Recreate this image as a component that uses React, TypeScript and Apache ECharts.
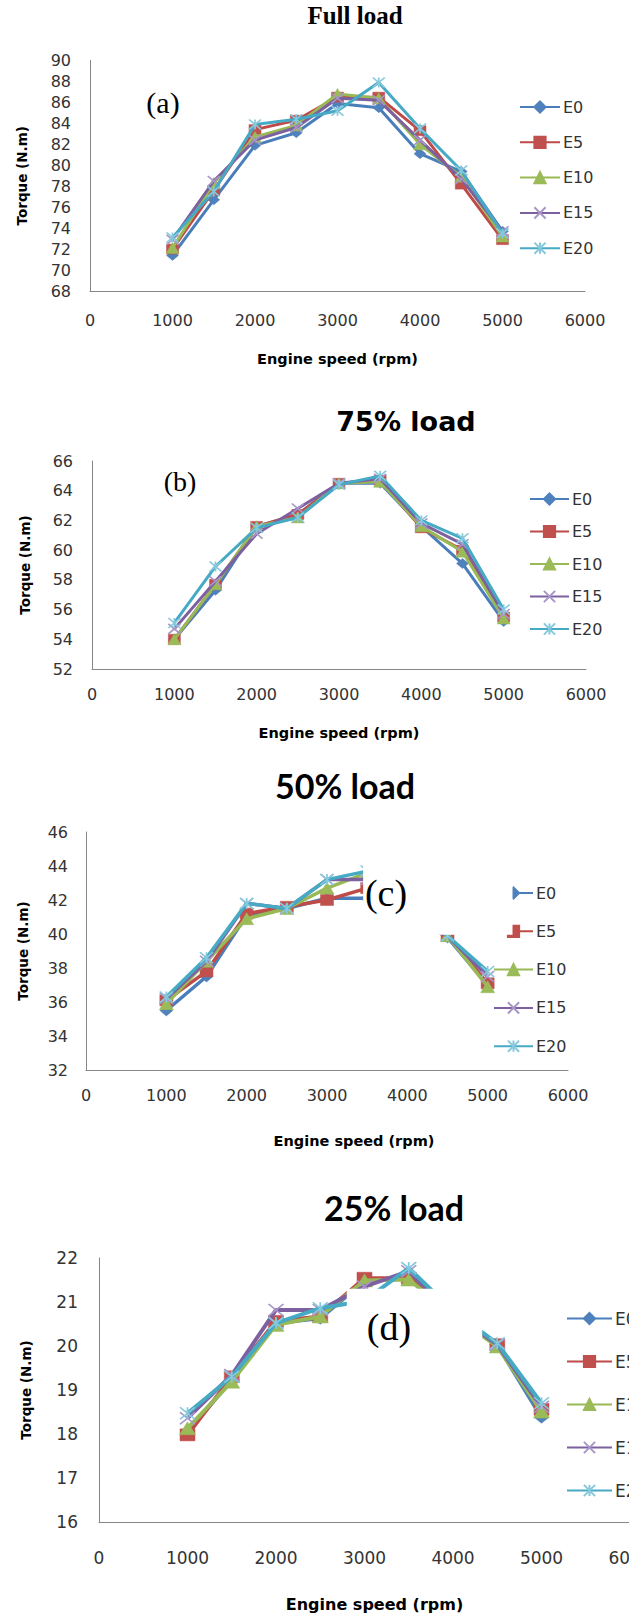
import React, { useEffect, useRef } from "react";
import * as echarts from "echarts";

// ---------- data ----------
const engineSpeed = [1000, 1500, 2000, 2500, 3000, 3500, 4000, 4500, 5000];
const blendNames = ["E0", "E5", "E10", "E15", "E20"];

const fullE0 = [71.4, 76.7, 81.9, 83.1, 85.9, 85.5, 81.1, 79.4, 73.7];
const fullE5 = [72.0, 77.6, 83.4, 84.3, 86.5, 86.5, 83.3, 78.2, 72.9];
const fullE10 = [72.1, 78.3, 82.7, 83.8, 86.8, 86.4, 82.0, 78.9, 73.2];
const fullE15 = [72.9, 78.5, 82.4, 83.6, 86.4, 86.2, 82.4, 78.7, 73.7];
const fullE20 = [73.1, 77.5, 83.9, 84.4, 85.2, 87.9, 83.5, 79.5, 73.5];

const load75E0 = [54.0, 57.3, 61.6, 62.4, 64.5, 64.5, 61.6, 59.1, 55.2];
const load75E5 = [54.0, 57.7, 61.6, 62.4, 64.5, 64.7, 61.5, 60.0, 55.5];
const load75E10 = [54.0, 57.7, 61.6, 62.2, 64.5, 64.6, 61.6, 59.9, 55.4];
const load75E15 = [54.7, 57.9, 61.1, 62.8, 64.5, 64.8, 61.8, 60.4, 55.7];
const load75E20 = [55.1, 58.9, 61.5, 62.2, 64.4, 65.0, 62.0, 60.8, 56.0];

const load50E0 = [35.5, 37.5, 41.1, 41.5, 42.1, 42.1, 41.2, 39.8, 37.0];
const load50E5 = [36.1, 37.8, 41.2, 41.6, 42.0, 42.7, 41.4, 39.9, 37.1];
const load50E10 = [35.9, 38.4, 40.9, 41.5, 42.7, 43.6, 41.7, 39.9, 36.9];
const load50E15 = [36.2, 38.4, 41.8, 41.5, 43.2, 43.2, 41.6, 39.9, 37.5];
const load50E20 = [36.3, 38.6, 41.8, 41.5, 43.2, 43.7, 41.8, 39.9, 37.8];

const load25E0 = [18.05, 19.23, 20.52, 20.63, 21.47, 21.58, 20.65, 20.03, 18.38];
const load25E5 = [17.98, 19.3, 20.56, 20.67, 21.54, 21.54, 20.7, 20.03, 18.56];
const load25E10 = [18.13, 19.19, 20.48, 20.67, 21.49, 21.51, 20.7, 19.99, 18.51];
const load25E15 = [18.36, 19.34, 20.82, 20.82, 21.35, 21.7, 20.75, 20.03, 18.62];
const load25E20 = [18.47, 19.3, 20.52, 20.86, 21.03, 21.77, 20.8, 20.06, 18.7];

const panelValues = [
  [fullE0, fullE5, fullE10, fullE15, fullE20],
  [load75E0, load75E5, load75E10, load75E15, load75E20],
  [load50E0, load50E5, load50E10, load50E15, load50E20],
  [load25E0, load25E5, load25E10, load25E15, load25E20],
];

const panelTitles = ["Full load", "75% load", "50% load", "25% load"];
const panelTags = ["(a)", "(b)", "(c)", "(d)"];
const yMins = [68, 52, 32, 16];
const yMaxs = [90, 66, 46, 22];
const yIntervals = [2, 2, 2, 1];
const xMin = 0;
const xMax = 6000;
const xInterval = 1000;
const xName = "Engine speed (rpm)";
const yName = "Torque (N.m)";

// ---------- styles / layout ----------
const lineColors = ["#4A7EBB", "#BE4B48", "#98B954", "#7D60A0", "#46AAC5"];
const markerColors = ["#4F81BD", "#C0504D", "#9BBB59", "#A996C8", "#86C9DD"];
const markerSymbols = [
  "diamond",
  "rect",
  "triangle",
  "path://M0,0L10,10M10,0L0,10",
  "path://M0,0L10,10M10,0L0,10M5,0L5,10",
];

const layouts = [
  {
    grid: { left: 90, top: 60.5, width: 495, height: 230.5 },
    font: 16, xMargin: 21, yMargin: 19, xNameGap: 60, xNameShift: 0, xNameSize: 14.5, yNameGap: 61,
    legend: { left: 519, top: 99, itemWidth: 40, itemGap: 19.3 }, legendFont: 16,
    lineWidth: 3, sym: [12, 10],
    title: { x: 355, y: 15, size: 25, family: "Liberation Serif" },
    tag: { x: 163, y: 102, size: 30 },
  },
  {
    grid: { left: 92, top: 461, width: 494, height: 208 },
    font: 16, xMargin: 17, yMargin: 19, xNameGap: 56, xNameShift: 0, xNameSize: 14.5, yNameGap: 60,
    legend: { left: 529, top: 491, itemWidth: 39, itemGap: 16.5 }, legendFont: 16,
    lineWidth: 3, sym: [12, 10],
    title: { x: 406, y: 421, size: 27, family: "DejaVu Sans" },
    tag: { x: 180, y: 481, size: 28 },
  },
  {
    grid: { left: 86, top: 832, width: 482, height: 238 },
    font: 16, xMargin: 17, yMargin: 18, xNameGap: 63, xNameShift: 27, xNameSize: 14.5, yNameGap: 56,
    legend: { left: 493, top: 885, itemWidth: 39, itemGap: 22.3 }, legendFont: 16,
    lineWidth: 3.5, sym: [13, 11],
    title: { x: 345, y: 785, size: 34, family: "Lato" },
    tag: { x: 386, y: 893, size: 38 },
  },
  {
    grid: { left: 99, top: 1258, width: 531, height: 264 },
    font: 17, xMargin: 27, yMargin: 21, xNameGap: 74, xNameShift: 10, xNameSize: 16, yNameGap: 66,
    legend: { left: 566, top: 1310, itemWidth: 45, itemGap: 26 }, legendFont: 17,
    lineWidth: 4, sym: [15, 12],
    title: { x: 394, y: 1207, size: 34, family: "Lato" },
    tag: { x: 389, y: 1327, size: 38 },
  },
];

const axisColor = "#868686";
const labelColor = "#333333";

function buildOption() {
  const grid = layouts.map((l) => ({
    ...l.grid,
    containLabel: false,
    outerBoundsMode: "none",
  }));
  const xAxis = layouts.map((l, i) => ({
    type: "value",
    gridIndex: i,
    min: xMin,
    max: xMax,
    interval: xInterval,
    name: xName,
    nameLocation: "middle",
    nameGap: l.xNameGap,
    nameTextStyle: {
      fontFamily: "DejaVu Sans",
      fontWeight: "bold",
      fontSize: l.xNameSize,
      color: "#000",
      padding: [0, 0, 0, l.xNameShift * 2],
    },
    axisLine: { show: true, lineStyle: { color: axisColor, width: 1 } },
    axisTick: { show: false },
    splitLine: { show: false },
    axisLabel: {
      fontFamily: "DejaVu Sans",
      fontSize: l.font,
      color: labelColor,
      margin: l.xMargin,
      formatter: (v: number) => String(v),
    },
  }));
  const yAxis = layouts.map((l, i) => ({
    type: "value",
    gridIndex: i,
    min: yMins[i],
    max: yMaxs[i],
    interval: yIntervals[i],
    name: yName,
    nameLocation: "middle",
    nameGap: l.yNameGap,
    nameTextStyle: {
      fontFamily: "DejaVu Sans",
      fontWeight: "bold",
      fontSize: 13.5,
      color: "#000",
    },
    axisLine: { show: true, lineStyle: { color: axisColor, width: 1 } },
    axisTick: { show: false },
    splitLine: { show: false },
    axisLabel: {
      fontFamily: "DejaVu Sans",
      fontSize: l.font,
      color: labelColor,
      margin: l.yMargin,
      formatter: (v: number) => String(v),
    },
  }));
  const legend = layouts.map((l) => ({
    orient: "vertical",
    left: l.legend.left,
    top: l.legend.top,
    itemWidth: l.legend.itemWidth,
    itemHeight: 14,
    itemGap: l.legend.itemGap,
    padding: 0,
    selectedMode: false,
    data: blendNames,
    textStyle: { fontFamily: "DejaVu Sans", fontSize: l.legendFont, color: labelColor, padding: [0, 0, 0, -2] },
  }));
  const series: any[] = [];
  panelValues.forEach((values, pi) => {
    const l = layouts[pi];
    values.forEach((vals, si) => {
      series.push({
        type: "line",
        name: blendNames[si],
        xAxisIndex: pi,
        yAxisIndex: pi,
        data: engineSpeed.map((s, k) => [s, vals[k]]),
        symbol: markerSymbols[si],
        symbolSize: si === 2 ? [l.sym[0] + 1, l.sym[1] + 1] : l.sym,
        showSymbol: true,
        lineStyle: { color: lineColors[si], width: l.lineWidth },
        itemStyle: {
          color: markerColors[si],
          borderColor: markerColors[si],
          borderWidth: si >= 3 ? 1.6 : 0.5,
          opacity: 1,
        },
        emphasis: { disabled: true },
        z: 2 + si * 0.01,
      });
    });
  });
  return { animation: false, backgroundColor: "#ffffff", grid, xAxis, yAxis, legend, series };
}

export default function App() {
  const ref = useRef<HTMLDivElement>(null);
  useEffect(() => {
    const chart = echarts.init(ref.current as HTMLDivElement, null, { renderer: "svg" });
    chart.setOption(buildOption() as any);

    // white label boxes (as in the source figure) that hide parts of panels (c) and (d)
    const cTop = chart.convertToPixel({ gridIndex: 2 }, [3450, 45.4]) as number[];
    const cBot = chart.convertToPixel({ gridIndex: 2 }, [3450, 39.96]) as number[];
    const cRight = layouts[2].legend.left + layouts[2].legend.itemWidth / 2;
    const dTL = chart.convertToPixel({ gridIndex: 3 }, [2800, 21.3]) as number[];
    const dBR = chart.convertToPixel({ gridIndex: 3 }, [4330, 19.85]) as number[];

    const graphic: any[] = [
      {
        type: "rect",
        z: 50,
        shape: { x: cTop[0], y: cTop[1], width: cRight - cTop[0], height: cBot[1] - cTop[1] },
        style: { fill: "#ffffff" },
        silent: true,
      },
      {
        type: "rect",
        z: 50,
        shape: { x: dTL[0], y: dTL[1], width: dBR[0] - dTL[0], height: dBR[1] - dTL[1] },
        style: { fill: "#ffffff" },
        silent: true,
      },
    ];
    layouts.forEach((l, i) => {
      graphic.push({
        type: "text",
        z: 60,
        x: l.title.x,
        y: l.title.y,
        style: {
          text: panelTitles[i],
          align: "center",
          verticalAlign: "middle",
          fontFamily: l.title.family,
          fontWeight: "bold",
          fontSize: l.title.size,
          fill: "#000000",
        },
      });
      graphic.push({
        type: "text",
        z: 60,
        x: l.tag.x,
        y: l.tag.y,
        style: {
          text: panelTags[i],
          align: "center",
          verticalAlign: "middle",
          fontFamily: "Liberation Serif",
          fontSize: l.tag.size,
          fill: "#000000",
        },
      });
    });
    chart.setOption({ graphic } as any);
    return () => chart.dispose();
  }, []);
  return (
    <div
      ref={ref}
      style={{ position: "absolute", left: 0, top: 0, width: 629, height: 1615, background: "#fff" }}
    />
  );
}
